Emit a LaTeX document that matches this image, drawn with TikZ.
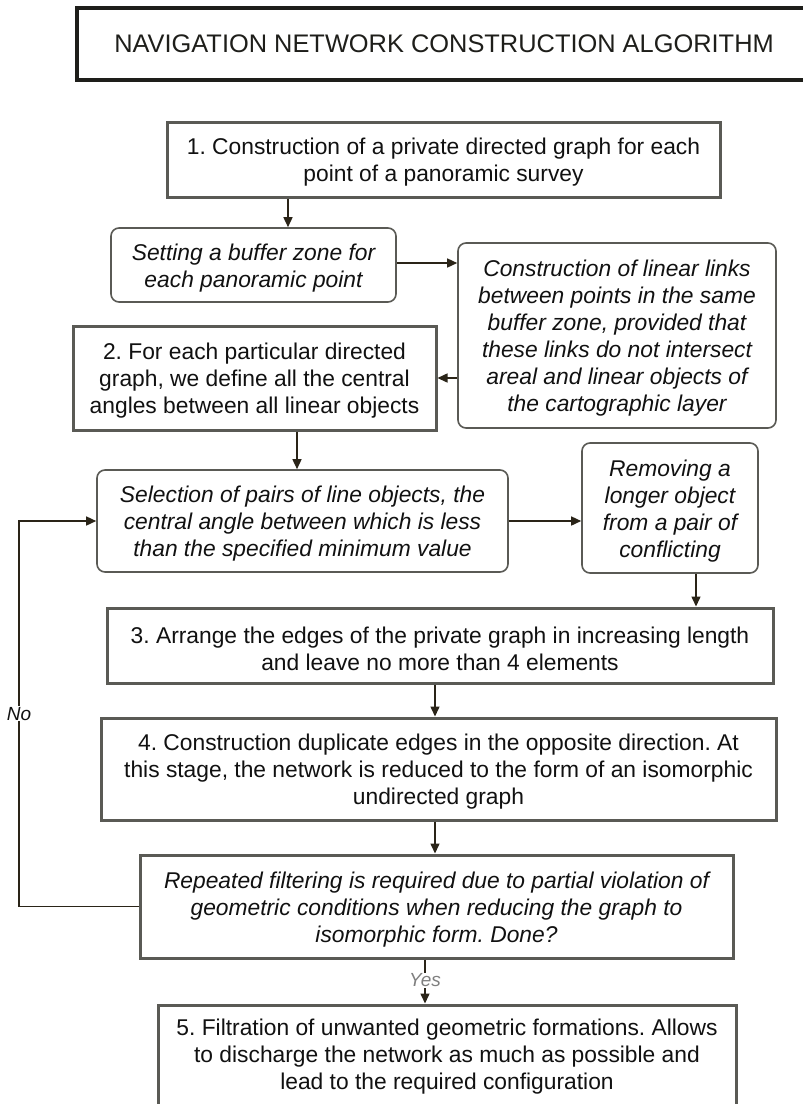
\documentclass[tikz,border=0pt]{standalone}
\usepackage{fontspec}
\setmainfont{Liberation Sans}
\usetikzlibrary{arrows.meta}
\definecolor{boxgray}{HTML}{5A5A55}
\definecolor{titlec}{HTML}{1E1E1A}
\definecolor{arrowc}{HTML}{2A2418}
\definecolor{txtc}{HTML}{111111}
\definecolor{yesc}{HTML}{808080}
\frenchspacing
\newcommand\tstr{\rule{0pt}{22.6pt}}
\tikzset{
  x=1pt, y=-1pt,
  base/.style={align=center, inner sep=0pt, text=txtc, font=\fontsize{22.8}{27}\selectfont},
  sqbox/.style={base, draw=boxgray, line width=3pt, fill=white},
  rbox/.style={base, draw=boxgray, line width=1.6pt, rounded corners=8pt, fill=white, font=\fontsize{22.8}{27}\selectfont\itshape},
  arr/.style={-{Triangle[length=10pt,width=9pt]}, line width=1.5pt, draw=arrowc},
  lab/.style={font=\fontsize{19}{22}\selectfont\itshape, fill=white, inner sep=1pt}
}
\begin{document}
\begin{tikzpicture}
\useasboundingbox (0,0) rectangle (803,1104);
% title
\node[draw=titlec, line width=4pt, minimum width=729pt, minimum height=72pt, inner sep=0pt] (tbox) at (441.5,44) {};
\node[base, font=\fontsize{25.4}{28}\selectfont, text=titlec] (title) at (444,44) {NAVIGATION NETWORK CONSTRUCTION ALGORITHM};
% boxes
\node[sqbox, minimum width=553pt, minimum height=75pt] (b1) at (443.5,159.5)
  {\tstr 1. Construction of a private directed graph for each\\point of a panoramic survey};
\node[rbox, minimum width=285pt, minimum height=74pt] (buf) at (253.5,265)
  {\tstr Setting a buffer zone for\\each panoramic point};
\node[rbox, minimum width=318pt, minimum height=185pt] (links) at (617,335.5)
  {\tstr Construction of linear links\\between points in the same\\buffer zone, provided that\\these links do not intersect\\areal and linear objects of\\the cartographic layer};
\node[sqbox, minimum width=363pt, minimum height=104pt] (b2) at (254.5,378)
  {\tstr 2. For each particular directed\\graph, we define all the central\\angles between all linear objects};
\node[rbox, minimum width=411pt, minimum height=102pt] (sel) at (302.5,521)
  {\tstr Selection of pairs of line objects, the\\central angle between which is less\\than the specified minimum value};
\node[rbox, minimum width=176pt, minimum height=130pt] (rem) at (670,508)
  {\tstr Removing a\\longer object\\from a pair of\\conflicting};
\node[sqbox, minimum width=666pt, minimum height=75pt] (b3) at (440,645.5)
  {\tstr 3. Arrange the edges of the private graph in increasing length\\and leave no more than 4 elements};
\node[sqbox, minimum width=675pt, minimum height=102pt] (b4) at (438.5,769)
  {\tstr 4. Construction duplicate edges in the opposite direction. At\\this stage, the network is reduced to the form of an isomorphic\\undirected graph};
\node[sqbox, minimum width=593pt, minimum height=103pt, font=\fontsize{22.8}{27}\selectfont\itshape] (dec) at (436.5,906.5)
  {\tstr Repeated filtering is required due to partial violation of\\geometric conditions when reducing the graph to\\isomorphic form. Done?};
\node[sqbox, minimum width=578pt, minimum height=130pt] (b5) at (447,1070) {};
\node[base] (b5t) at (447,1054)
  {\tstr 5. Filtration of unwanted geometric formations. Allows\\to discharge the network as much as possible and\\lead to the required configuration};
% helper coordinates
\coordinate (c1) at (288,0);
\coordinate (cy1) at (0,263);
\coordinate (c2) at (297,0);
\coordinate (c3) at (696,0);
\coordinate (c4) at (435,0);
\coordinate (c5) at (425,0);
\coordinate (cl) at (19,0);
% connectors
\draw[arr] (b1.south -| c1) -- (buf.north -| c1);
\draw[arr] (buf.east |- cy1) -- (links.west |- cy1);
\draw[arr] (links.west |- b2.east) -- (b2.east);
\draw[arr] (b2.south -| c2) -- (sel.north -| c2);
\draw[arr] (sel.east) -- (sel.east -| rem.west);
\draw[arr] (rem.south -| c3) -- (b3.north -| c3);
\draw[arr] (b3.south -| c4) -- (b4.north -| c4);
\draw[arr] (b4.south -| c4) -- (dec.north -| c4);
\draw[arr] (dec.south -| c5) -- node[lab, text=yesc, pos=0.47] (yes) {Yes} (b5.north -| c5);
\draw[arr] (dec.west) -- (dec.west -| cl) -- node[lab, text=txtc, pos=0.5] (no) {No} (sel.west -| cl) -- (sel.west);
\end{tikzpicture}
\end{document}
